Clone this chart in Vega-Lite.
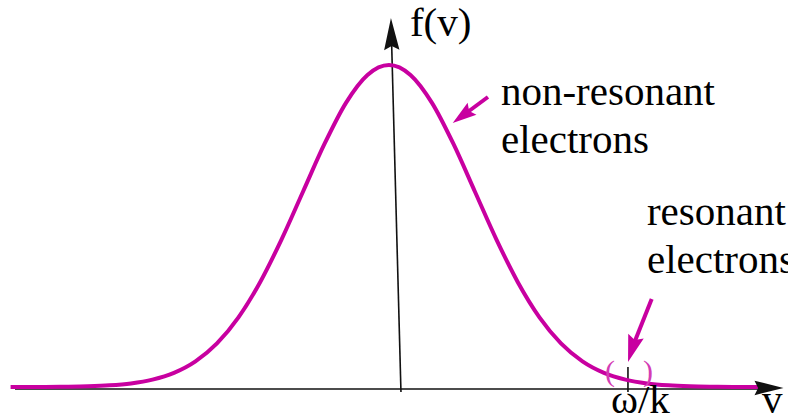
{
  "$schema": "https://vega.github.io/schema/vega-lite/v6.json",
  "width": 788,
  "height": 417,
  "padding": 0,
  "autosize": {"type": "none"},
  "background": "white",
  "config": {"view": {"stroke": null}},
  "datasets": {
    "maxwellian": [
      {"v": -4.4, "f": 0.0001}, {"v": -4.0, "f": 0.0003}, {"v": -3.75, "f": 0.0009},
      {"v": -3.5, "f": 0.0022}, {"v": -3.25, "f": 0.0051}, {"v": -3.0, "f": 0.0111},
      {"v": -2.75, "f": 0.0228}, {"v": -2.5, "f": 0.0439}, {"v": -2.25, "f": 0.0796},
      {"v": -2.0, "f": 0.1353}, {"v": -1.75, "f": 0.2163}, {"v": -1.5, "f": 0.3247},
      {"v": -1.25, "f": 0.4578}, {"v": -1.0, "f": 0.6065}, {"v": -0.75, "f": 0.7548},
      {"v": -0.5, "f": 0.8825}, {"v": -0.25, "f": 0.9692}, {"v": 0.0, "f": 1.0},
      {"v": 0.25, "f": 0.9692}, {"v": 0.5, "f": 0.8825}, {"v": 0.75, "f": 0.7548},
      {"v": 1.0, "f": 0.6065}, {"v": 1.25, "f": 0.4578}, {"v": 1.5, "f": 0.3247},
      {"v": 1.75, "f": 0.2163}, {"v": 2.0, "f": 0.1353}, {"v": 2.25, "f": 0.0796},
      {"v": 2.5, "f": 0.0439}, {"v": 2.75, "f": 0.0228}, {"v": 3.0, "f": 0.0111},
      {"v": 3.25, "f": 0.0051}, {"v": 3.5, "f": 0.0022}, {"v": 3.75, "f": 0.0009},
      {"v": 4.0, "f": 0.0003}, {"v": 4.3, "f": 0.0001}
    ],
    "axisLines": [
      {"part": "v axis", "v0": -4.349, "f0": -0.0062, "v1": 4.43, "f1": -0.0062},
      {"part": "f axis", "v0": 0.1395, "f0": -0.0155, "v1": 0.03, "f1": 1.0776},
      {"part": "phase velocity tick", "v0": 2.779, "f0": 0.0621, "v1": 2.779, "f1": -0.0155}
    ],
    "pointers": [
      {"target": "non-resonant", "v0": 1.151, "f0": 0.9006, "v1": 0.884, "f1": 0.8478},
      {"target": "resonant", "v0": 3.055, "f0": 0.2733, "v1": 2.837, "f1": 0.1273}
    ],
    "labels": [
      {"label": "f(v)", "v": 0.244, "f": 1.09},
      {"label": "non-resonant", "v": 1.302, "f": 0.8758},
      {"label": "electrons", "v": 1.302, "f": 0.7267},
      {"label": "resonant", "v": 3.0, "f": 0.5031},
      {"label": "electrons", "v": 3.0, "f": 0.354},
      {"label": "ω/k", "v": 2.581, "f": -0.0807},
      {"label": "v", "v": 4.337, "f": -0.0807}
    ],
    "brackets": [
      {"label": "(", "v": 2.57, "f": 0.0466},
      {"label": ")", "v": 3.012, "f": 0.0466}
    ]
  },
  "layer": [
    {
      "data": {"name": "axisLines"},
      "mark": {"type": "rule", "color": "#111111", "strokeWidth": 1.6},
      "encoding": {
        "x": {"field": "v0", "type": "quantitative", "scale": {"domain": [-4.523, 4.64], "nice": false, "zero": false}, "axis": null},
        "x2": {"field": "v1"},
        "y": {"field": "f0", "type": "quantitative", "scale": {"domain": [-0.0932, 1.2019], "nice": false, "zero": false}, "axis": null},
        "y2": {"field": "f1"}
      }
    },
    {
      "data": {"name": "maxwellian"},
      "mark": {"type": "line", "color": "#c800a0", "strokeWidth": 4, "interpolate": "monotone"},
      "encoding": {
        "x": {"field": "v", "type": "quantitative", "scale": {"domain": [-4.523, 4.64], "nice": false, "zero": false}, "axis": null},
        "y": {"field": "f", "type": "quantitative", "scale": {"domain": [-0.0932, 1.2019], "nice": false, "zero": false}, "axis": null}
      }
    },
    {
      "data": {"values": [{"v": 4.419, "f": -0.0031}]},
      "mark": {"type": "point", "shape": "M0,-1L0.5,1L0,0.75L-0.5,1Z", "filled": true, "size": 841, "angle": 90, "color": "#111111", "opacity": 1, "strokeWidth": 0},
      "encoding": {
        "x": {"field": "v", "type": "quantitative", "scale": {"domain": [-4.523, 4.64], "nice": false, "zero": false}, "axis": null},
        "y": {"field": "f", "type": "quantitative", "scale": {"domain": [-0.0932, 1.2019], "nice": false, "zero": false}, "axis": null}
      }
    },
    {
      "data": {"values": [{"v": 0.0279, "f": 1.0963}]},
      "mark": {"type": "point", "shape": "M0,-1L0.48,1L0,0.75L-0.48,1Z", "filled": true, "size": 1024, "angle": 358.5, "color": "#111111", "opacity": 1, "strokeWidth": 0},
      "encoding": {
        "x": {"field": "v", "type": "quantitative", "scale": {"domain": [-4.523, 4.64], "nice": false, "zero": false}, "axis": null},
        "y": {"field": "f", "type": "quantitative", "scale": {"domain": [-0.0932, 1.2019], "nice": false, "zero": false}, "axis": null}
      }
    },
    {
      "data": {"name": "pointers"},
      "mark": {"type": "rule", "color": "#c800a0", "strokeWidth": 4},
      "encoding": {
        "x": {"field": "v0", "type": "quantitative", "scale": {"domain": [-4.523, 4.64], "nice": false, "zero": false}, "axis": null},
        "x2": {"field": "v1"},
        "y": {"field": "f0", "type": "quantitative", "scale": {"domain": [-0.0932, 1.2019], "nice": false, "zero": false}, "axis": null},
        "y2": {"field": "f1"}
      }
    },
    {
      "data": {"values": [{"v": 0.8535, "f": 0.8419}]},
      "mark": {"type": "point", "shape": "M0,-1L0.62,1L0,0.7L-0.62,1Z", "filled": true, "size": 576, "angle": 233.6, "color": "#c800a0", "opacity": 1, "strokeWidth": 0},
      "encoding": {
        "x": {"field": "v", "type": "quantitative", "scale": {"domain": [-4.523, 4.64], "nice": false, "zero": false}, "axis": null},
        "y": {"field": "f", "type": "quantitative", "scale": {"domain": [-0.0932, 1.2019], "nice": false, "zero": false}, "axis": null}
      }
    },
    {
      "data": {"values": [{"v": 2.826, "f": 0.1177}]},
      "mark": {"type": "point", "shape": "M0,-1L0.6,1L0,0.7L-0.6,1Z", "filled": true, "size": 729, "angle": 197.1, "color": "#c800a0", "opacity": 1, "strokeWidth": 0},
      "encoding": {
        "x": {"field": "v", "type": "quantitative", "scale": {"domain": [-4.523, 4.64], "nice": false, "zero": false}, "axis": null},
        "y": {"field": "f", "type": "quantitative", "scale": {"domain": [-0.0932, 1.2019], "nice": false, "zero": false}, "axis": null}
      }
    },
    {
      "data": {"name": "brackets"},
      "mark": {"type": "text", "font": "'Liberation Serif', 'DejaVu Serif', serif", "fontSize": 30, "align": "center", "baseline": "middle", "color": "#d43cb4"},
      "encoding": {
        "x": {"field": "v", "type": "quantitative", "scale": {"domain": [-4.523, 4.64], "nice": false, "zero": false}, "axis": null},
        "y": {"field": "f", "type": "quantitative", "scale": {"domain": [-0.0932, 1.2019], "nice": false, "zero": false}, "axis": null},
        "text": {"field": "label"}
      }
    },
    {
      "data": {"name": "labels"},
      "mark": {"type": "text", "font": "'Liberation Serif', 'DejaVu Serif', serif", "fontSize": 41, "align": "left", "baseline": "alphabetic", "color": "#000000"},
      "encoding": {
        "x": {"field": "v", "type": "quantitative", "scale": {"domain": [-4.523, 4.64], "nice": false, "zero": false}, "axis": null},
        "y": {"field": "f", "type": "quantitative", "scale": {"domain": [-0.0932, 1.2019], "nice": false, "zero": false}, "axis": null},
        "text": {"field": "label"}
      }
    }
  ]
}
